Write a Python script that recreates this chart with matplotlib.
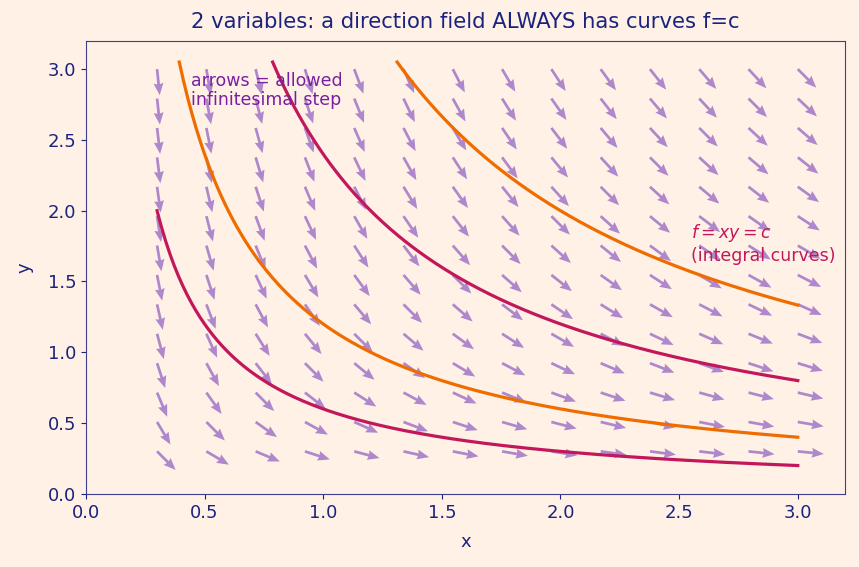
import numpy as np
import matplotlib
matplotlib.use("Agg")
import matplotlib.pyplot as plt

# grid of the direction field for f = xy
grid_x = np.linspace(0.3, 3.0, 14)
grid_y = np.linspace(0.3, 3.0, 14)

# levels of the integral curves xy = c
levels = [0.6, 1.2, 2.4, 4.0]
level_colors = ["#C2185B", "#EF6C00", "#C2185B", "#EF6C00"]

bg = "#FFF1E6"
navy = "#1A237E"

fig, ax = plt.subplots(figsize=(8.59, 5.67), dpi=100)
fig.patch.set_facecolor(bg)
ax.set_facecolor(bg)

X, Y = np.meshgrid(grid_x, grid_y)
U, V = X, -Y
n = np.hypot(U, V)
ax.quiver(X, Y, U / n, V / n, color="#A67CC9", alpha=0.9, scale=29,
          width=0.0036, headwidth=3.6, headlength=4.4, headaxislength=4.0,
          pivot="tail", zorder=2)

for c, col in zip(levels, level_colors):
    xs = np.linspace(max(0.3, c / 3.05), 3.0, 300)
    ax.plot(xs, c / xs, color=col, lw=2.3, zorder=3)

ax.text(0.445, 2.98, "arrows = allowed\ninfinitesimal step", color="#7B1FA2",
        fontsize=12.5, va="top", ha="left", linespacing=1.05, zorder=4)
ax.text(2.55, 1.62, "$f = xy = c$\n(integral curves)", color="#C2185B",
        fontsize=12.5, va="bottom", ha="left", zorder=4)

ax.set_xlim(0, 3.2)
ax.set_ylim(0, 3.2)
ax.set_xticks([0.0, 0.5, 1.0, 1.5, 2.0, 2.5, 3.0])
ax.set_yticks([0.0, 0.5, 1.0, 1.5, 2.0, 2.5, 3.0])
ax.set_xlabel("x", color=navy, fontsize=13, labelpad=8)
ax.set_ylabel("y", color=navy, fontsize=13, labelpad=10)
ax.set_title("2 variables: a direction field ALWAYS has curves f=c",
             color=navy, fontsize=15.2, pad=9)
ax.tick_params(colors=navy, labelsize=13)
for s in ax.spines.values():
    s.set_color("#3F3D8F")

fig.subplots_adjust(left=0.1, right=0.984, top=0.928, bottom=0.129)
fig.savefig("out.png", facecolor=bg)
